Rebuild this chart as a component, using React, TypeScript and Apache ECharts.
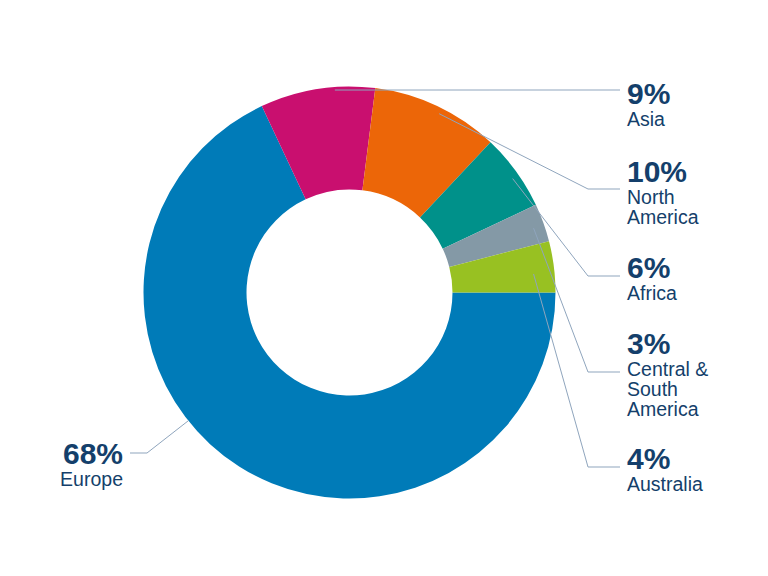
import React, { useEffect, useRef } from "react";
import * as echarts from "echarts";

const regions = ["Europe", "Asia", "North\nAmerica", "Africa", "Central &\nSouth\nAmerica", "Australia"];
const shares = [68, 9, 10, 6, 3, 4];
const colors = ["#007bb8", "#c90f6f", "#ec6608", "#00918a", "#8499a6", "#98c122"];

// layout (pixels)
const CX = 349.5;
const CY = 292.5;
const R_IN = 103;
const R_OUT = 206;
const TEXT = "#143f6b";
const LINE = "#8fa5bd";
// per-slice label placement
const labelX = [123, 627, 627, 627, 627, 627];
const labelTop = [438, 78, 156, 252, 328, 443];
const leaderY = [453, 90, 189, 276, 372, 467];
const kneeX = [147, 588, 588, 588, 588, 588];
const endX = [130, 620, 620, 620, 620, 620];
const anchorFrac = [0.578, 0.65, 0.54, 0.55, 0.55, 0.6];
const anchorR = [206, 203, 200, 199, 195, 185];

export default function App() {
  const ref = useRef<HTMLDivElement>(null);
  useEffect(() => {
    if (!ref.current) return;
    const chart = echarts.init(ref.current, undefined, { renderer: "svg" });
    const total = shares.reduce((a, b) => a + b, 0);
    const starts: number[] = [];
    let acc = 0;
    shares.forEach((v) => {
      starts.push(acc);
      acc += v;
    });
    const anchor = (i: number) => {
      const deg = ((starts[i] + anchorFrac[i] * shares[i]) / total) * 360;
      const rad = (deg * Math.PI) / 180;
      return [CX + anchorR[i] * Math.cos(rad), CY + anchorR[i] * Math.sin(rad)];
    };
    const base = {
      type: "pie",
      center: [CX, CY],
      radius: [R_IN, R_OUT],
      startAngle: 0,
      clockwise: true,
      silent: true,
    };
    chart.setOption({
      animation: false,
      series: [
        {
          ...base,
          z: 2,
          label: { show: false },
          labelLine: { show: false },
          data: regions.map((name, i) => ({
            name,
            value: shares[i],
            itemStyle: { color: colors[i] },
          })),
        },
        {
          ...base,
          z: 5,
          data: regions.map((name, i) => ({
            name,
            value: shares[i],
            itemStyle: { color: "rgba(0,0,0,0)" },
          })),
          label: {
            show: true,
            position: "outside",
            formatter: (p: any) =>
              `{v|${p.value}%}\n` +
              String(p.name)
                .split("\n")
                .map((s: string) => `{n|${s}}`)
                .join("\n"),
            rich: {
              v: {
                fontFamily: "Liberation Sans, Arial, sans-serif",
                fontSize: 30,
                fontWeight: "bold",
                lineHeight: 31,
                color: TEXT,
              },
              n: {
                fontFamily: "Liberation Sans, Arial, sans-serif",
                fontSize: 19.5,
                lineHeight: 20,
                color: TEXT,
              },
            },
          },
          labelLine: {
            show: true,
            smooth: false,
            lineStyle: { color: LINE, width: 1 },
          },
          labelLayout: (params: any) => {
            const i = params.dataIndex;
            const right = i !== 0;
            return {
              x: labelX[i],
              y: labelTop[i],
              align: right ? "left" : "right",
              verticalAlign: "top",
              labelLinePoints: [anchor(i), [kneeX[i], leaderY[i]], [endX[i], leaderY[i]]],
            };
          },
        },
      ],
    });
    return () => chart.dispose();
  }, []);
  return (
    <div
      ref={ref}
      style={{ position: "fixed", left: 0, top: 0, width: 768, height: 576, background: "#fff" }}
    />
  );
}
